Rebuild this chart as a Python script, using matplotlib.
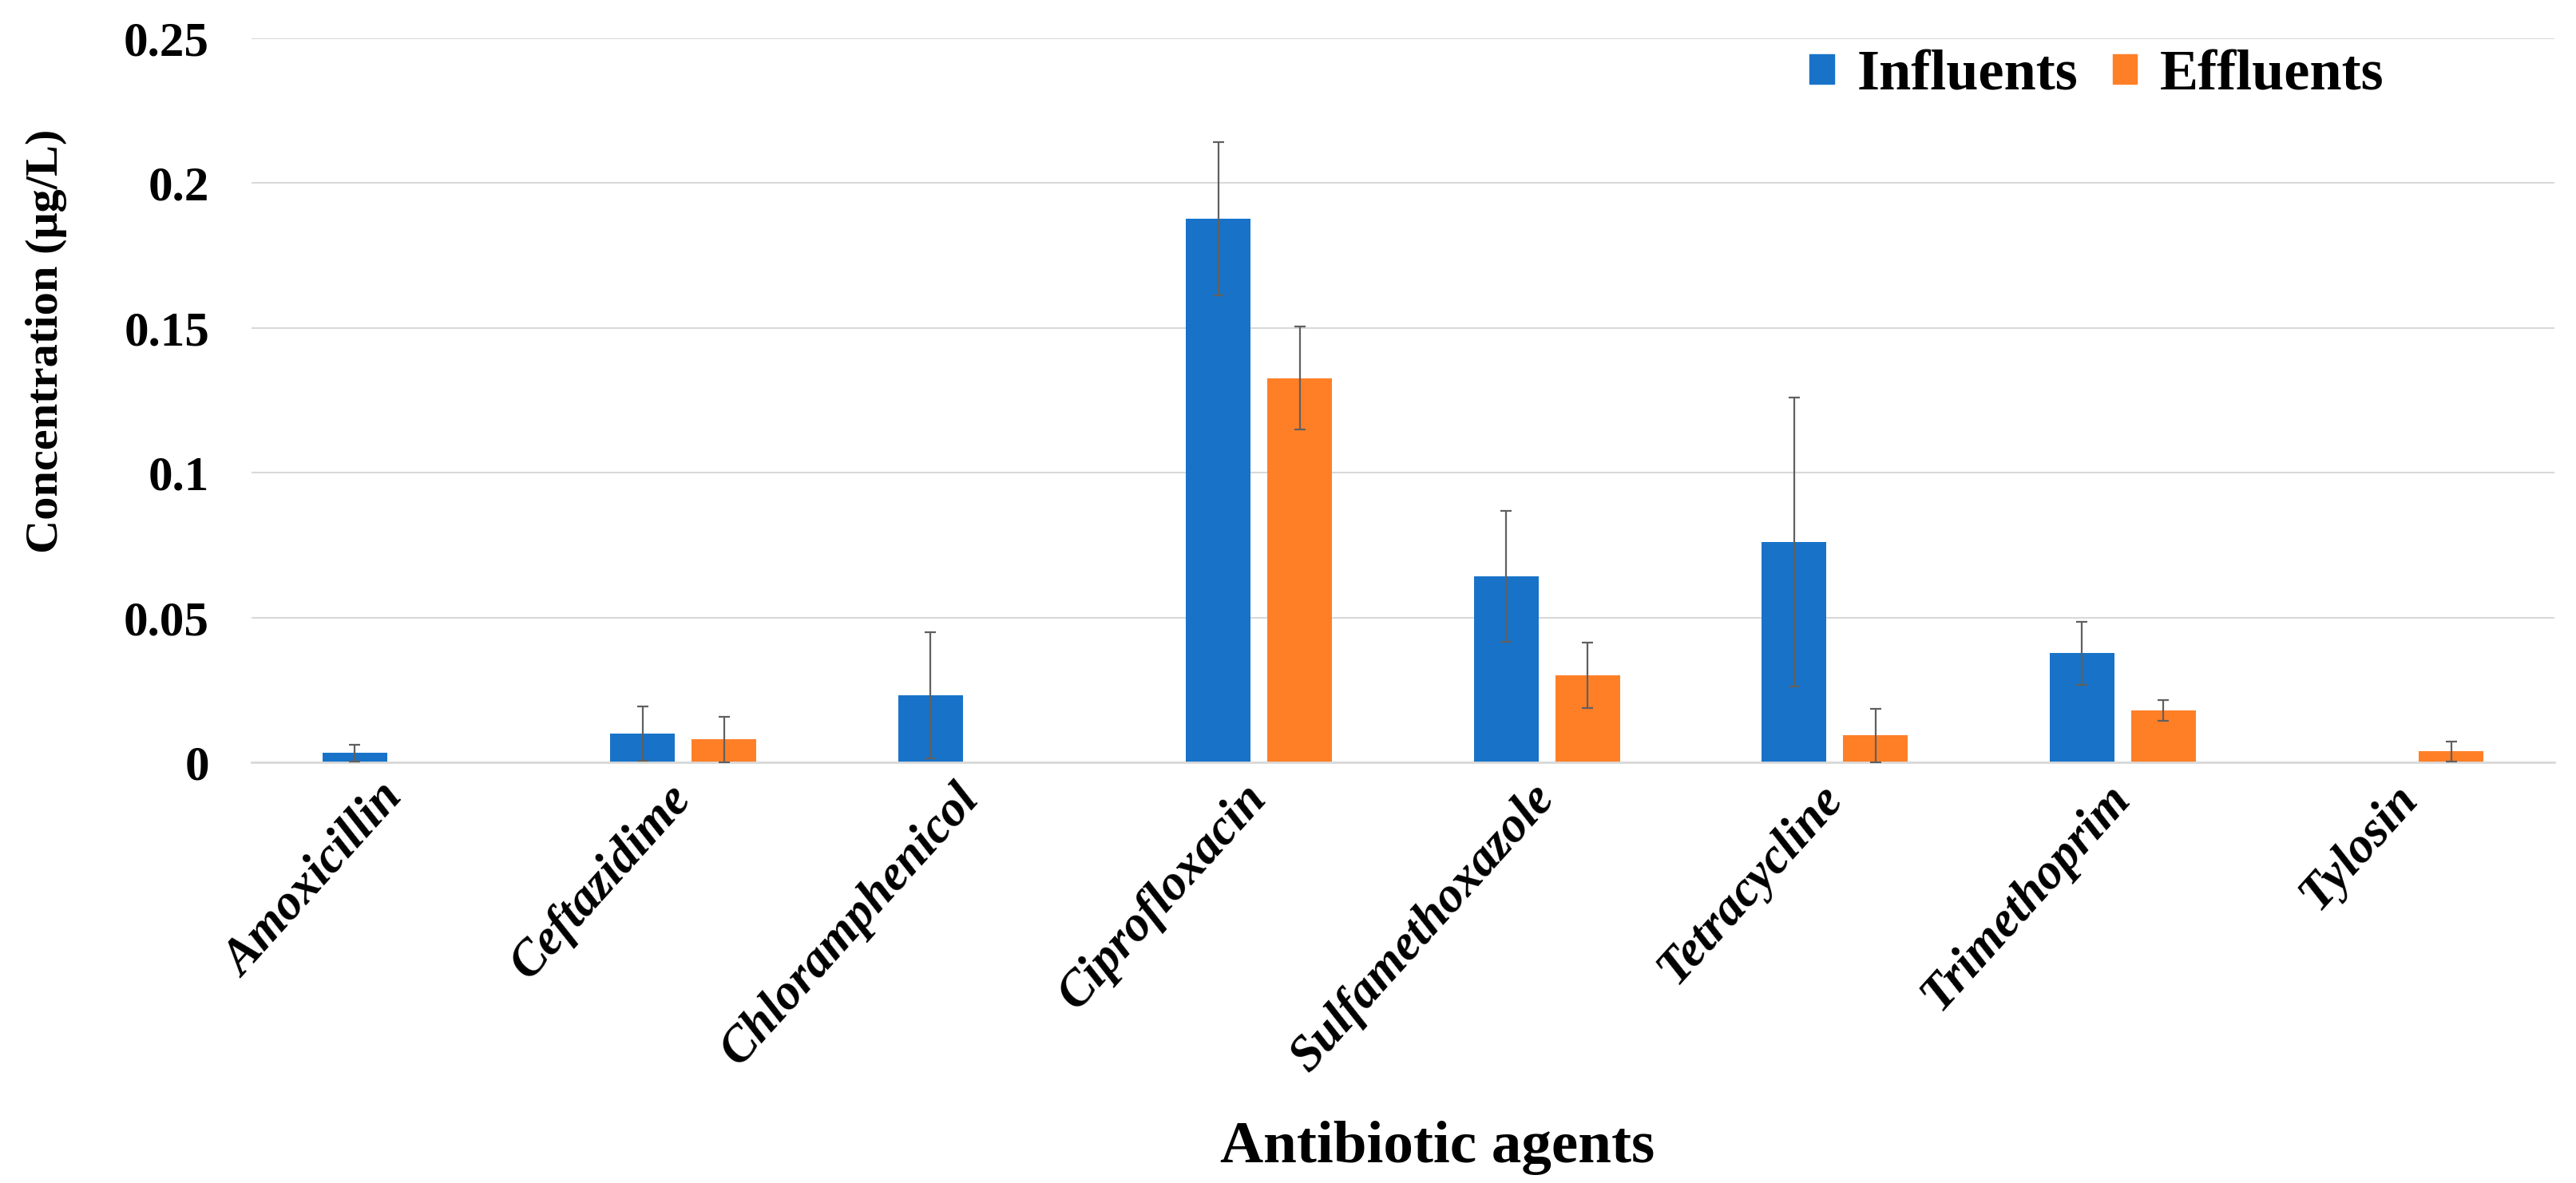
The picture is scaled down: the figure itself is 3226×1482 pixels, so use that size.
import numpy as np
import matplotlib
matplotlib.use("Agg")
import matplotlib.pyplot as plt
from matplotlib.patches import Patch

# values (ug/L)
categories = ['Amoxicillin', 'Ceftazidime', 'Chloramphenicol', 'Ciprofloxacin',
              'Sulfamethoxazole', 'Tetracycline', 'Trimethoprim', 'Tylosin']
influents = [0.0032, 0.0100, 0.0231, 0.1877, 0.0643, 0.0761, 0.0377, 0.0]
influents_err = [0.0029, 0.0094, 0.0218, 0.0265, 0.0226, 0.0500, 0.0109, 0.0]
effluents = [0.0, 0.0079, 0.0, 0.1327, 0.0300, 0.0093, 0.0180, 0.0038]
effluents_err = [0.0, 0.0078, 0.0, 0.0178, 0.0113, 0.0092, 0.0036, 0.0035]
yticks = [0, 0.05, 0.1, 0.15, 0.2, 0.25]
ytick_labels = ['0', '0.05', '0.1', '0.15', '0.2', '0.25']

blue = '#1873C8'
orange = '#FF7F27'
serif = ['Liberation Serif', 'DejaVu Serif']

fig = plt.figure(figsize=(32.26, 14.82), dpi=100)
ax = fig.add_axes([0.0976, 0.3556, 0.894, 0.612])

x = np.arange(len(categories))
w = 0.225
off = 0.1415


def draw(xpos, vals, errs, color):
    vals = np.array(vals)
    errs = np.array(errs)
    ax.bar(xpos, vals, width=w, color=color, zorder=2)
    m = vals > 0
    lower = np.minimum(errs[m], vals[m])
    ax.errorbar(xpos[m], vals[m], yerr=[lower, errs[m]], fmt='none',
                ecolor='#606060', elinewidth=1.6, capsize=5, capthick=1.6, zorder=3)


draw(x - off, influents, influents_err, blue)
draw(x + off, effluents, effluents_err, orange)

ax.set_xlim(-0.5, len(categories) - 0.5)
ax.set_ylim(0, 0.25)
ax.set_yticks(yticks)
ax.set_yticklabels(ytick_labels, fontfamily=serif, fontweight='bold', fontsize=44)
# labels end slightly left of the group centre, as in the original
ax.set_xticks(x - 0.06)
ax.set_xticklabels(categories, fontfamily=serif, fontweight='bold', fontstyle='italic',
                   fontsize=45, rotation=48, ha='right', rotation_mode='anchor')
ax.tick_params(axis='y', length=0, pad=38)
ax.tick_params(axis='x', length=0, pad=12)

ax.grid(axis='y', color='#D9D9D9', linewidth=1.5, zorder=0)
ax.set_axisbelow(True)
for s in ['top', 'right', 'left']:
    ax.spines[s].set_visible(False)
ax.spines['bottom'].set_color('#D9D9D9')
ax.spines['bottom'].set_linewidth(2)

fig.text(0.018, 0.712, 'Concentration (μg/L)', rotation=90, ha='center', va='center',
         fontfamily=serif, fontweight='bold', fontsize=42)
fig.text(0.558, 0.03, 'Antibiotic agents', ha='center', va='center',
         fontfamily=serif, fontweight='bold', fontsize=54)

handles = [Patch(color=blue, label='Influents'), Patch(color=orange, label='Effluents')]
fig.legend(handles=handles, loc='center', bbox_to_anchor=(0.814, 0.936), ncol=2,
           frameon=False, handlelength=0.42, handleheight=0.42, handletextpad=0.4,
           columnspacing=0.6, prop={'family': serif, 'weight': 'bold', 'size': 52})

fig.savefig('out.png', dpi=100, facecolor='white')
